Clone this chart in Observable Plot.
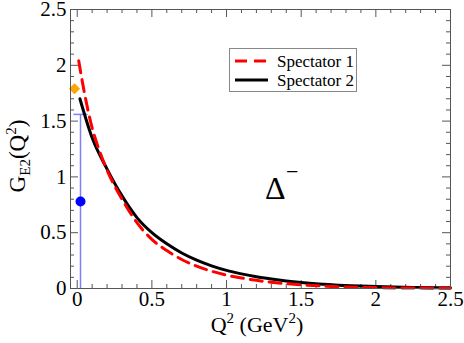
<!DOCTYPE html>
<html><head><meta charset="utf-8">
<script src="https://cdn.jsdelivr.net/npm/d3@7"></script>
<script src="https://cdn.jsdelivr.net/npm/@observablehq/plot@0.6"></script>
<style>
body{margin:0;background:#fff;}
#chart{position:relative;width:464px;height:343px;}
#chart svg, #chart svg text { font-family: "Liberation Serif", "Times New Roman", Times, "DejaVu Serif", serif !important; }
</style>
</head><body><div id="chart"></div>
<script>
// Spectator 1 (red dashed)
const spec1Q = [0.01,0.05,0.1,0.15,0.2,0.3,0.4,0.5,0.6,0.7,0.8,0.9,1.0,1.1,1.2,1.3,1.4,1.5,1.75,2.0,2.25,2.5];
const spec1V = [2.04,1.74,1.44,1.23,1.06,0.80,0.59,0.44,0.34,0.26,0.20,0.155,0.12,0.094,0.073,0.056,0.043,0.033,0.016,0.008,0.004,0.002];
// Spectator 2 (black solid)
const spec2Q = [0.018,0.1,0.2,0.3,0.4,0.5,0.6,0.7,0.8,0.9,1.0,1.1,1.2,1.3,1.4,1.5,1.75,2.0,2.25,2.5];
const spec2V = [1.70,1.35,1.07,0.83,0.635,0.50,0.40,0.318,0.254,0.203,0.162,0.131,0.105,0.085,0.068,0.054,0.030,0.018,0.010,0.006];
// data points
const expQ = [0.022], expV = [0.78], expLo = [0.0], expHi = [1.56];
const latQ = [-0.018], latV = [1.79];
// ticks
const xMajor = [0,0.5,1,1.5,2,2.5];
const yMajor = [0,0.5,1,1.5,2,2.5];
const xMinor = d3.range(0,25).map(i=>+(i*0.1).toFixed(1)).filter(v=>!xMajor.includes(v));
const yMinor = d3.range(0,25).map(i=>+(i*0.1).toFixed(1)).filter(v=>!yMajor.includes(v));
const seriesNames = ["Spectator 1","Spectator 2"];

const s1 = spec1Q.map((q,i)=>({q, v: spec1V[i]}));
const s2 = spec2Q.map((q,i)=>({q, v: spec2V[i]}));
const exp = expQ.map((q,i)=>({q, v: expV[i], lo: expLo[i], hi: expHi[i]}));
const lat = latQ.map((q,i)=>({q, v: latV[i]}));

const frameC = "#555";
const serif = "'Liberation Serif','Times New Roman',Times,serif";
const capSymbol = {draw(ctx, size){ const w = Math.sqrt(size); ctx.moveTo(-w,0); ctx.lineTo(w,0);} };

const plot = Plot.plot({
  width: 464, height: 343,
  marginLeft: 70, marginRight: 14, marginTop: 9, marginBottom: 55,
  x: {domain: [-0.045, 2.5]},
  y: {domain: [0, 2.5]},
  style: {fontFamily: serif, background: "white", color: "black", overflow: "visible"},
  marks: [
    Plot.tickX(xMajor, {x: d=>d, insetTop: 271, stroke: frameC}),
    Plot.tickX(xMinor, {x: d=>d, insetTop: 275, stroke: frameC}),
    Plot.tickX(xMajor, {x: d=>d, insetBottom: 271, stroke: frameC}),
    Plot.tickX(xMinor, {x: d=>d, insetBottom: 275, stroke: frameC}),
    Plot.tickY(yMajor, {y: d=>d, insetRight: 372, stroke: frameC}),
    Plot.tickY(yMinor, {y: d=>d, insetRight: 376, stroke: frameC}),
    Plot.tickY(yMajor, {y: d=>d, insetLeft: 372, stroke: frameC}),
    Plot.tickY(yMinor, {y: d=>d, insetLeft: 376, stroke: frameC}),
    Plot.axisX(xMajor, {tickSize: 0, tickPadding: 3, fontSize: 21, label: null, tickFormat: d=>String(d)}),
    Plot.axisY(yMajor, {tickSize: 0, tickPadding: 4, fontSize: 21, label: null, tickFormat: d=>String(d)}),
    Plot.ruleX(exp, {x: "q", y1: "lo", y2: "hi", stroke: "#8080ff", strokeWidth: 1.5}),
    Plot.dot(exp, {x: "q", y: "hi", symbol: capSymbol, r: 4, stroke: "#8080ff", strokeWidth: 1.5, fill: "none"}),
    Plot.line(s2, {x: "q", y: "v", stroke: "black", strokeWidth: 3, curve: "monotone-x"}),
    Plot.line(s1, {x: "q", y: "v", stroke: "#ff0000", strokeWidth: 3, strokeDasharray: "12,7", curve: "monotone-x"}),
    Plot.dot(exp, {x: "q", y: "v", r: 5, fill: "#0000ff", stroke: "none"}),
    Plot.dot(lat, {x: "q", y: "v", symbol: "diamond2", r: 5, fill: "#ffa500", stroke: "none"}),
    Plot.frame({stroke: frameC})
  ]
});
document.getElementById("chart").appendChild(plot);

const svg = d3.select(plot);
// legend
const lg = svg.append("g").attr("text-anchor","start");
lg.append("rect").attr("x", 229.5).attr("y", 48.5).attr("width", 127).attr("height", 43)
  .attr("fill", "white").attr("stroke", "#888").attr("stroke-width", 1);
const lstyles = [{c:"#ff0000", dash:"12,7", y:61},{c:"black", dash:null, y:80}];
seriesNames.forEach((n,i)=>{
  const s = lstyles[i];
  lg.append("line").attr("x1",235).attr("x2",268).attr("y1",s.y).attr("y2",s.y)
    .attr("stroke",s.c).attr("stroke-width",3).attr("stroke-dasharray",s.dash);
  lg.append("text").attr("x",277).attr("y",s.y+5.5).attr("font-size",17).attr("font-family",serif)
    .attr("text-anchor","start").attr("fill","black").text(n);
});
// y label
const yl = svg.append("text").attr("transform","translate(25,156) rotate(-90)")
  .attr("text-anchor","middle").attr("font-family",serif).attr("font-size",23).attr("fill","black");
yl.append("tspan").text("G");
yl.append("tspan").attr("font-size",15).attr("dy",5).text("E2");
yl.append("tspan").attr("dy",-5).text("(Q");
yl.append("tspan").attr("font-size",15).attr("dy",-9).text("2");
yl.append("tspan").attr("dy",9).text(")");
// x label
const xl = svg.append("text").attr("x",257).attr("y",332)
  .attr("text-anchor","middle").attr("font-family",serif).attr("font-size",22).attr("fill","black");
xl.append("tspan").text("Q");
xl.append("tspan").attr("font-size",15).attr("dy",-9).text("2");
xl.append("tspan").attr("dy",9).text(" (GeV");
xl.append("tspan").attr("font-size",15).attr("dy",-9).text("2");
xl.append("tspan").attr("dy",9).text(")");
// Delta annotation
svg.append("text").attr("x",265).attr("y",199).attr("font-family",serif).attr("font-size",32)
  .attr("text-anchor","start").attr("fill","black").text("Δ");
svg.append("text").attr("x",286).attr("y",179).attr("font-family",serif).attr("font-size",22)
  .attr("text-anchor","start").attr("fill","black").text("−");
</script></body></html>
